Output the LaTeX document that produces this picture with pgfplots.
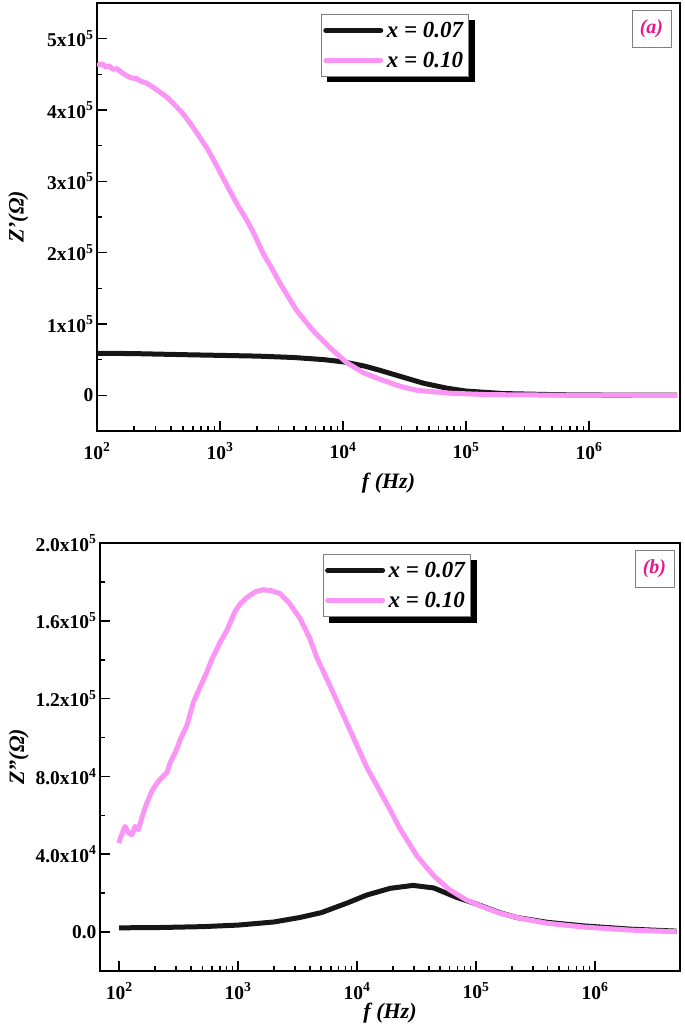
\documentclass[border=0pt]{standalone}
\usepackage{pgfplots}
\pgfplotsset{compat=1.18}
\usepackage{fontspec}
\setmainfont{Liberation Serif}

\definecolor{pinkline}{RGB}{250,148,245}
\definecolor{darkline}{RGB}{22,22,22}
\definecolor{labelpink}{RGB}{232,24,140}

\pgfdeclarelayer{shadowlayer}
\pgfsetlayers{shadowlayer,main}

\newcommand{\tl}[2]{\textbf{#1}\textsuperscript{\textbf{#2}}}

\pgfplotsset{
  every axis/.append style={
    scale only axis,
    scaled ticks=false,
    axis line style={line width=2.4bp},
    tick align=inside,
    xtick pos=left, ytick pos=left,
    major tick length=10bp, minor tick length=5bp,
    every tick/.style={line width=1.6bp, black},
    tick label style={font=\fontsize{19.5bp}{22bp}\selectfont\bfseries},
    xticklabel style={yshift=-8bp},
    label style={font=\fontsize{22bp}{25bp}\selectfont\bfseries\itshape},
    legend cell align=left,
    legend style={at={(axis description cs:0.384,0.974)}, anchor=north west,
      draw=gray, line width=0.8bp, fill=white,
      font=\fontsize{23bp}{26bp}\selectfont\bfseries\itshape,
      inner xsep=2bp, inner ysep=4bp, row sep=6bp,
      nodes={inner sep=3.5bp}},
    legend image code/.code={\draw[##1, line width=5bp, line cap=round] (0bp,0bp) -- (55bp,0bp);},
  },
}

\begin{document}
\begin{tikzpicture}
\useasboundingbox (0,0) rectangle (685bp,1030bp);

% ---------- (a) real part
\begin{axis}[
  at={(97bp,599bp)}, anchor=south west,
  width=583bp, height=428bp,
  xmode=log,
  xmin=100, xmax=5.5e6,
  ymin=-5e4, ymax=5.5e5,
  xtick={1e2,1e3,1e4,1e5,1e6},
  xticklabels={\tl{10}{2},\tl{10}{3},\tl{10}{4},\tl{10}{5},\tl{10}{6}},
  ytick={0,1e5,2e5,3e5,4e5,5e5},
  minor ytick={5e4,1.5e5,2.5e5,3.5e5,4.5e5},
  yticklabels={\textbf{0},\tl{1x10}{5},\tl{2x10}{5},\tl{3x10}{5},\tl{4x10}{5},\tl{5x10}{5}},
  xlabel={f (Hz)},
  ylabel={Z'(Ω)},
  ylabel style={at={(axis description cs:-0.135,0.5)}, anchor=center},
  xlabel style={at={(axis description cs:0.5,-0.121)}, anchor=center},
  legend style={name=legA},
]
\addplot[darkline, line width=5bp, line join=round] coordinates {
 (100,59000) (200,58500) (500,57000) (1000,56000) (2000,55000) (4000,53000)
 (7000,50000) (10000,47000) (15000,41000) (20000,35000) (30000,26000)
 (45000,17000) (70000,10000) (100000,6000) (200000,2500) (500000,1000)
 (1000000,500) (5200000,200)};
\addlegendentry{x = 0.07}
\addplot[pinkline, line width=5bp, line join=round] coordinates {
 (100,465000) (105,463000) (110,465000) (118,460000) (125,462000) (135,457000)
 (145,458000) (160,452000) (175,448000) (190,445000) (210,444000) (230,440000)
 (250,438000) (280,433000) (320,426000) (370,418000) (430,407000) (500,395000)
 (580,380000) (690,361000) (800,344000) (880,331000) (1000,313000)
 (1200,287000) (1400,266000) (1660,245000) (1900,226000) (2240,199000)
 (2600,180000) (3080,157000) (4200,119000) (5700,91000) (7800,67000)
 (10700,46000) (14500,32000) (20000,22500) (30000,12000) (40000,7000)
 (74000,3000) (150000,1000) (500000,300) (5200000,0)};
\addlegendentry{x = 0.10}
\node[draw=gray, line width=0.8bp, minimum width=39bp, minimum height=37bp,
  text=labelpink, font=\fontsize{20bp}{22bp}\selectfont\bfseries\itshape]
  at (axis description cs:0.951,0.94) {(a)};
\end{axis}
\begin{pgfonlayer}{shadowlayer}
\fill[black] ([shift={(6bp,-6bp)}]legA.south west) rectangle ([shift={(6bp,-6bp)}]legA.north east);
\end{pgfonlayer}

% ---------- (b) imaginary part
\begin{axis}[
  at={(100bp,59bp)}, anchor=south west,
  width=580bp, height=428bp,
  xmode=log,
  xmin=69, xmax=5.18e6,
  ymin=-2e4, ymax=2e5,
  xtick={1e2,1e3,1e4,1e5,1e6},
  xticklabels={\tl{10}{2},\tl{10}{3},\tl{10}{4},\tl{10}{5},\tl{10}{6}},
  ytick={0,4e4,8e4,1.2e5,1.6e5,2e5},
  minor ytick={2e4,6e4,1e5,1.4e5,1.8e5},
  yticklabels={\textbf{0.0},\tl{4.0x10}{4},\tl{8.0x10}{4},\tl{1.2x10}{5},\tl{1.6x10}{5},\tl{2.0x10}{5}},
  xlabel={f (Hz)},
  ylabel={Z''(Ω)},
  ylabel style={at={(axis description cs:-0.14,0.5)}, anchor=center},
  xlabel style={at={(axis description cs:0.5,-0.098)}, anchor=center},
  legend style={name=legB},
]
\addplot[darkline, line width=5bp, line join=round] coordinates {
 (100,2200) (200,2300) (500,2800) (1000,3600) (2000,5200) (3300,7500)
 (5000,10000) (8300,15000) (12000,19000) (19000,22500) (29500,24000)
 (44000,22700) (69000,17800) (100000,14500) (158000,10000) (220000,7500)
 (400000,5000) (800000,3200) (2000000,1500) (4850000,500)};
\addlegendentry{x = 0.07}
\addplot[pinkline, line width=5bp, line join=round] coordinates {
 (99,45800) (105,50000) (112,54300) (120,51000) (128,50000) (136,54300)
 (145,52600) (155,58800) (170,66000) (188,72400) (205,76000) (221,78500)
 (252,82000) (268,87000) (300,93000) (326,99000) (370,106000) (420,118000)
 (479,126000) (540,133000) (600,140000) (706,149000) (803,155000)
 (944,165000) (1050,169000) (1185,172000) (1400,175000) (1630,176000)
 (1900,175500) (2250,174000) (2700,169000) (3330,161000) (4000,151000)
 (4600,141000) (6300,123000) (8700,104000) (12000,85000) (18900,63000)
 (23000,53000) (32000,39000) (44000,29000) (60000,21700) (83000,16500)
 (114000,13000) (158000,9800) (230000,7200) (400000,4500) (800000,2600)
 (2000000,1000) (4850000,200)};
\addlegendentry{x = 0.10}
\node[draw=gray, line width=0.8bp, minimum width=39bp, minimum height=37bp,
  text=labelpink, font=\fontsize{20bp}{22bp}\selectfont\bfseries\itshape]
  at (axis description cs:0.956,0.94) {(b)};
\end{axis}
\begin{pgfonlayer}{shadowlayer}
\fill[black] ([shift={(6bp,-6bp)}]legB.south west) rectangle ([shift={(6bp,-6bp)}]legB.north east);
\end{pgfonlayer}
\end{tikzpicture}
\end{document}
